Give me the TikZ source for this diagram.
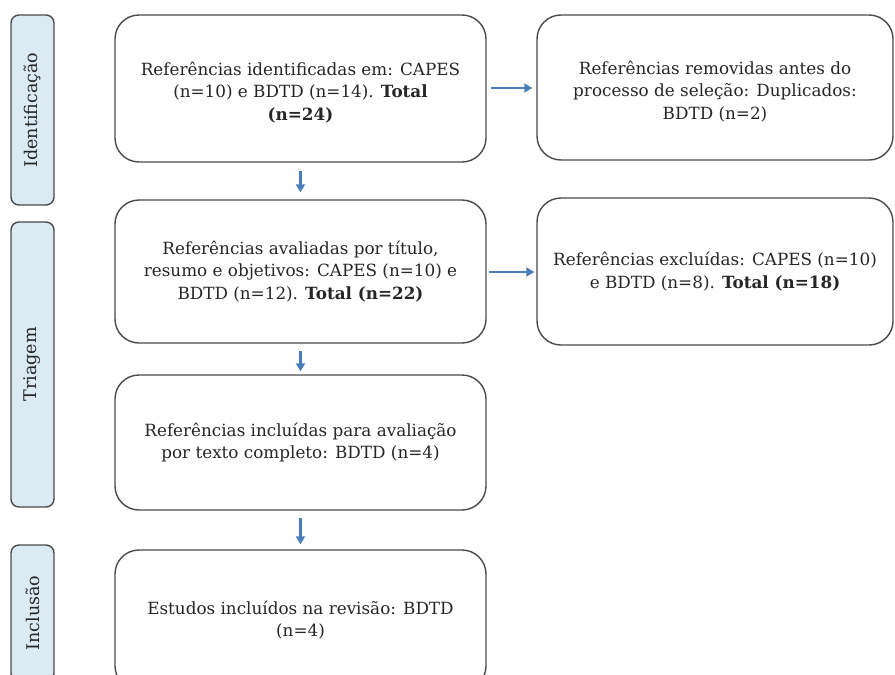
\documentclass[tikz,border=0pt]{standalone}
\usepackage{fontspec}
\setmainfont{DejaVu Serif}
\usetikzlibrary{arrows.meta}
\definecolor{txt}{HTML}{262626}
\definecolor{edge}{HTML}{4A4A4A}
\definecolor{phasefill}{HTML}{DCEAF4}
\definecolor{arrowblue}{HTML}{4A7EBB}
\begin{document}
\begin{tikzpicture}[x=1pt,y=-1pt,
  mainbox/.style={draw=edge,line width=1.4pt,rounded corners=24pt,fill=white,
    text=txt,align=center,inner sep=0pt,font=\fontsize{16.8}{22.5}\selectfont},
  boxtext/.style={text=txt,align=center,inner sep=0pt,font=\fontsize{16.8}{22.5}\selectfont},
  phasebox/.style={draw=edge,line width=1.4pt,rounded corners=8pt,fill=phasefill,
    inner sep=0pt},
  phaselabel/.style={rotate=90,text=txt,inner sep=0pt,font=\fontsize{17.5}{20}\selectfont},
  flow/.style={draw=arrowblue,line width=2.6pt,-{Triangle[length=8pt,width=9pt]}}]
\useasboundingbox (0,0) rectangle (895,675);
% phase boxes
\node[phasebox,minimum width=43pt,minimum height=190pt] (pid) at (32.5,110) {};
\node[phaselabel] (pidt) at (pid.center) {Identificação};
\node[phasebox,minimum width=43pt,minimum height=285pt] (ptr) at (32.5,364.5) {};
\node[phaselabel] (ptrt) at (ptr.center) {Triagem};
\node[phasebox,minimum width=43pt,minimum height=136pt] (pin) at (32.5,613) {};
\node[phaselabel] (pint) at (pin.center) {Inclusão};
% main boxes
\node[mainbox,minimum width=371pt,minimum height=147pt] (b1) at (300.5,88.5) {};
\node[boxtext] (b1t) at ([yshift=-4pt]b1.center)
  {Referências identificadas em: CAPES\\(n=10) e BDTD (n=14). \textbf{Total}\\\textbf{(n=24)}};
\node[mainbox,minimum width=371pt,minimum height=143pt] (b2) at (300.5,271.5)
  {Referências avaliadas por título,\\resumo e objetivos: CAPES (n=10) e\\BDTD (n=12). \textbf{Total (n=22)}};
\node[mainbox,minimum width=371pt,minimum height=135pt] (b3) at (300.5,442.5)
  {Referências incluídas para avaliação\\por texto completo: BDTD (n=4)};
\node[mainbox,minimum width=371pt,minimum height=140pt] (b4) at (300.5,620)
  {Estudos incluídos na revisão: BDTD\\(n=4)};
\node[mainbox,minimum width=356pt,minimum height=145pt] (r1) at (715,87.5) {};
\node[boxtext] (r1t) at ([yshift=-4pt]r1.center)
  {Referências removidas antes do\\processo de seleção: Duplicados:\\BDTD (n=2)};
\node[mainbox,minimum width=356pt,minimum height=147pt] (r2) at (715,271.5)
  {Referências excluídas: CAPES (n=10)\\e BDTD (n=8). \textbf{Total (n=18)}};
% arrows
\draw[flow,shorten <=4pt,shorten >=4pt] (b1.east |- 0,88) -- (r1.west |- 0,88);
\draw[flow,shorten <=2pt,shorten >=2pt] (b2.east |- 0,272) -- (r2.west |- 0,272);
\draw[flow,shorten <=8pt,shorten >=7pt] (b1.south) -- (b2.north);
\draw[flow,shorten <=7pt,shorten >=3pt] (b2.south) -- (b3.north);
\draw[flow,shorten <=7pt,shorten >=5pt] (b3.south) -- (b4.north);
\end{tikzpicture}
\end{document}
